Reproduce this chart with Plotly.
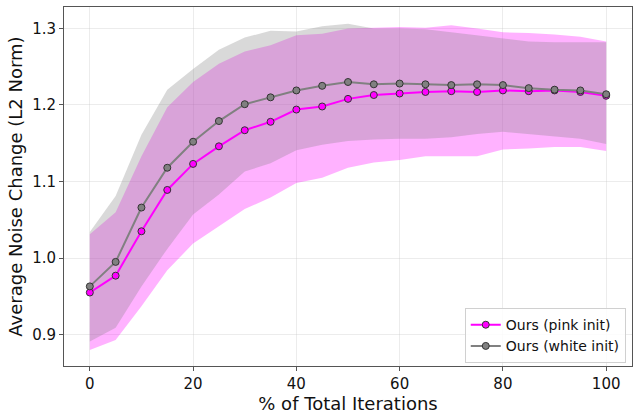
import plotly.graph_objects as go

x_pct = [0, 5, 10, 15, 20, 25, 30, 35, 40, 45, 50, 55, 60, 65, 70, 75, 80, 85, 90, 95, 100]

pink_mean = [0.955, 0.977, 1.035, 1.089, 1.123, 1.146, 1.167, 1.178, 1.194, 1.198, 1.208,
             1.213, 1.215, 1.217, 1.218, 1.217, 1.219, 1.218, 1.219, 1.217, 1.212]
pink_upper = [1.031, 1.060, 1.133, 1.197, 1.230, 1.254, 1.270, 1.278, 1.291, 1.293, 1.300,
              1.301, 1.302, 1.301, 1.304, 1.300, 1.295, 1.294, 1.292, 1.289, 1.283]
pink_lower = [0.880, 0.893, 0.937, 0.984, 1.019, 1.041, 1.064, 1.079, 1.098, 1.105, 1.118,
              1.125, 1.128, 1.133, 1.133, 1.133, 1.142, 1.143, 1.145, 1.145, 1.140]

white_mean = [0.963, 0.995, 1.066, 1.118, 1.152, 1.179, 1.201, 1.210, 1.219, 1.225, 1.230,
              1.227, 1.228, 1.227, 1.226, 1.227, 1.226, 1.222, 1.220, 1.219, 1.214]
white_upper = [1.034, 1.081, 1.161, 1.220, 1.247, 1.272, 1.288, 1.297, 1.296, 1.303, 1.306,
               1.300, 1.300, 1.299, 1.295, 1.291, 1.287, 1.283, 1.282, 1.282, 1.282]
white_lower = [0.891, 0.909, 0.963, 1.012, 1.057, 1.083, 1.113, 1.124, 1.141, 1.148, 1.153,
               1.155, 1.156, 1.156, 1.158, 1.162, 1.165, 1.162, 1.159, 1.156, 1.149]

x_ticks = [0, 20, 40, 60, 80, 100]
y_ticks = [0.9, 1.0, 1.1, 1.2, 1.3]

FONT = "DejaVu Sans"
fig = go.Figure()

def band(lower, upper, color):
    fig.add_trace(go.Scatter(x=x_pct, y=lower, mode="lines", line=dict(width=0),
                             showlegend=False, hoverinfo="skip"))
    fig.add_trace(go.Scatter(x=x_pct, y=upper, mode="lines", line=dict(width=0),
                             fill="tonexty", fillcolor=color, showlegend=False, hoverinfo="skip"))

band(pink_lower, pink_upper, "rgba(255,0,255,0.3)")
band(white_lower, white_upper, "rgba(128,128,128,0.3)")

fig.add_trace(go.Scatter(x=x_pct, y=pink_mean, mode="lines+markers", name="Ours (pink init)",
                         line=dict(color="#ff00ff", width=2),
                         marker=dict(size=7, color="#ff00ff", line=dict(color="#333333", width=1))))
fig.add_trace(go.Scatter(x=x_pct, y=white_mean, mode="lines+markers", name="Ours (white init)",
                         line=dict(color="#808080", width=2),
                         marker=dict(size=7, color="#808080", line=dict(color="#333333", width=1))))

axis_common = dict(showline=True, linecolor="#555555", linewidth=1, mirror=True,
                   ticks="outside", ticklen=4, tickcolor="#555555",
                   showgrid=True, gridcolor="rgba(200,200,200,0.35)", gridwidth=1,
                   zeroline=False, tickfont=dict(family=FONT, size=15, color="#111111"))

fig.update_layout(
    width=636, height=414,
    margin=dict(l=64, r=3, t=7, b=40),
    paper_bgcolor="white", plot_bgcolor="white",
    font=dict(family=FONT, color="#111111"),
    xaxis=dict(range=[-5, 105], tickvals=x_ticks,
               title=dict(text="% of Total Iterations", font=dict(family=FONT, size=18), standoff=5),
               **axis_common),
    yaxis=dict(range=[0.859, 1.328], tickvals=y_ticks, tickformat=".1f",
               title=dict(text="Average Noise Change (L2 Norm)", font=dict(family=FONT, size=18), standoff=4),
               **axis_common),
    legend=dict(x=0.989, y=0.008, xanchor="right", yanchor="bottom", traceorder="normal",
                bgcolor="rgba(255,255,255,0.85)", bordercolor="#d0d0d0", borderwidth=1,
                font=dict(family=FONT, size=14), tracegroupgap=0, itemwidth=30),
    showlegend=True,
)

fig.write_html("out.html")
